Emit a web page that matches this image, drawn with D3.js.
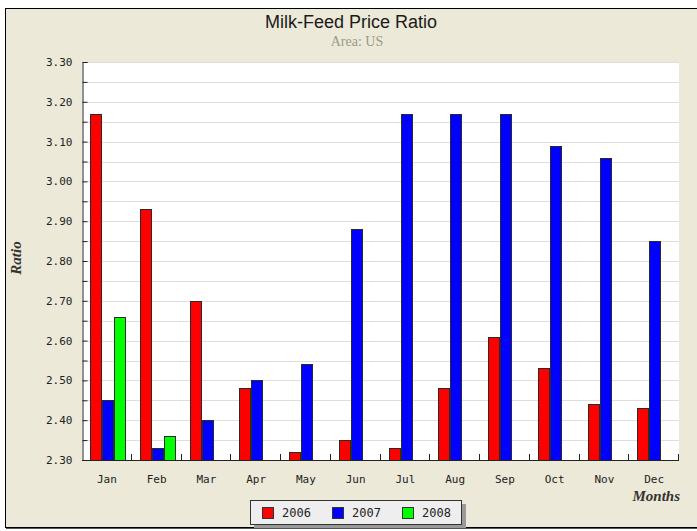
<!DOCTYPE html>
<html>
<head>
<meta charset="utf-8">
<script src="https://cdn.jsdelivr.net/npm/d3@7"></script>
<style>
  html, body { margin: 0; padding: 0; background: #ffffff; }
  svg { display: block; }
</style>
</head>
<body>
<svg id="chart" width="697" height="531"></svg>
<script>
const months = ["Jan","Feb","Mar","Apr","May","Jun","Jul","Aug","Sep","Oct","Nov","Dec"];
const seriesNames = ["2006","2007","2008"];
const values2006 = [3.17, 2.93, 2.70, 2.48, 2.32, 2.35, 2.33, 2.48, 2.61, 2.53, 2.44, 2.43];
const values2007 = [2.45, 2.33, 2.40, 2.50, 2.54, 2.88, 3.17, 3.17, 3.17, 3.09, 3.06, 2.85];
const values2008 = [2.66, 2.36, null, null, null, null, null, null, null, null, null, null];
const seriesColors = ["#ff0000", "#0000ff", "#00ff00"];
const yTickValues = [2.30, 2.40, 2.50, 2.60, 2.70, 2.80, 2.90, 3.00, 3.10, 3.20, 3.30];
const yMinorValues = [2.30,2.35,2.40,2.45,2.50,2.55,2.60,2.65,2.70,2.75,2.80,2.85,2.90,2.95,3.00,3.05,3.10,3.15,3.20,3.25,3.30];

const seriesValues = [values2006, values2007, values2008];

const svg = d3.select("#chart");
const W = 697, H = 531;
const plot = { left: 82, right: 679, top: 62, bottom: 460 };

// frame
svg.append("rect").attr("x", 6).attr("y", 10).attr("width", 720).attr("height", 519)
  .attr("fill", "#555");
svg.append("rect").attr("x", 5.5).attr("y", 8.5).attr("width", 720).attr("height", 519)
  .attr("fill", "#ECE9D8").attr("stroke", "#000").attr("stroke-width", 1);

// title
svg.append("text").attr("x", 351).attr("y", 28).attr("text-anchor", "middle")
  .attr("font-family", "Liberation Sans, Arial, sans-serif").attr("font-size", 18)
  .attr("fill", "#1a1a1a").text("Milk-Feed Price Ratio");
svg.append("text").attr("x", 357).attr("y", 46).attr("text-anchor", "middle")
  .attr("font-family", "Liberation Serif, Times New Roman, serif").attr("font-size", 14)
  .attr("fill", "#9a9a88").text("Area: US");

// scales
const x0 = d3.scaleBand().domain(months).range([plot.left, plot.right]).padding(0);
const x1 = d3.scaleBand().domain(seriesNames).range([8, 44]).padding(0);
const y = d3.scaleLinear().domain([2.30, 3.30]).range([plot.bottom, plot.top]);

// plot background
svg.append("rect").attr("x", plot.left).attr("y", plot.top)
  .attr("width", plot.right - plot.left).attr("height", plot.bottom - plot.top)
  .attr("fill", "#ffffff");

// gridlines
svg.append("g").selectAll("line").data(yMinorValues).join("line")
  .attr("x1", plot.left).attr("x2", plot.right)
  .attr("y1", d => Math.round(y(d)) + 0.5).attr("y2", d => Math.round(y(d)) + 0.5)
  .attr("stroke", "#dedede").attr("stroke-width", 1);

// bars
const barData = [];
months.forEach((m, i) => {
  seriesNames.forEach((s, j) => {
    const v = seriesValues[j][i];
    if (v !== null) barData.push({ month: m, series: s, value: v, color: seriesColors[j] });
  });
});
svg.append("g").selectAll("rect").data(barData).join("rect")
  .attr("x", d => Math.round(x0(d.month) + x1(d.series)) + 0.5)
  .attr("y", d => Math.round(y(d.value)) + 0.5)
  .attr("width", x1.bandwidth() - 1)
  .attr("height", d => Math.round(y(2.30)) - Math.round(y(d.value)))
  .attr("fill", d => d.color)
  .attr("stroke", "#2a2a2a").attr("stroke-width", 1);

// y axis
const yAxis = d3.axisLeft(y).tickValues(yMinorValues).tickSize(-5).tickPadding(10)
  .tickFormat(d => yTickValues.some(t => Math.abs(t - d) < 1e-6) ? d3.format(".2f")(d) : "");
const gy = svg.append("g").attr("transform", `translate(${plot.left + 0.5},0)`).call(yAxis);
gy.select(".domain").attr("stroke", "#222");
gy.selectAll(".tick line").attr("stroke", "#222");
gy.selectAll(".tick text").attr("font-family", "DejaVu Sans Mono, monospace")
  .attr("font-size", 11).attr("fill", "#222");

// x axis
const xAxis = d3.axisBottom(x0).tickSize(0).tickPadding(15);
const gx = svg.append("g").attr("transform", `translate(0,${plot.bottom + 0.5})`).call(xAxis);
gx.select(".domain").attr("stroke", "#222").attr("d", `M${plot.left},0H${plot.right}`);
gx.selectAll(".tick text").attr("font-family", "DejaVu Sans Mono, monospace")
  .attr("font-size", 11).attr("fill", "#222");
// boundary ticks
const boundaries = months.map(m => x0(m) + x0.bandwidth()).concat([]);
svg.append("g").selectAll("line").data(boundaries).join("line")
  .attr("x1", d => Math.round(d) - 0.5).attr("x2", d => Math.round(d) - 0.5)
  .attr("y1", plot.bottom).attr("y2", plot.bottom - 6)
  .attr("stroke", "#222");

// axis titles
svg.append("text").attr("transform", "translate(21,258) rotate(-90)")
  .attr("text-anchor", "middle")
  .attr("font-family", "Liberation Serif, Times New Roman, serif")
  .attr("font-size", 15).attr("font-style", "italic").attr("font-weight", "bold")
  .attr("fill", "#333").text("Ratio");
svg.append("text").attr("x", 680).attr("y", 501).attr("text-anchor", "end")
  .attr("font-family", "Liberation Serif, Times New Roman, serif")
  .attr("font-size", 15).attr("font-style", "italic").attr("font-weight", "bold")
  .attr("fill", "#333").text("Months");

// legend
const legend = svg.append("g");
legend.append("rect").attr("x", 254).attr("y", 504).attr("width", 212).attr("height", 24)
  .attr("fill", "#9a9a9a");
legend.append("rect").attr("x", 250.5).attr("y", 500.5).attr("width", 211).attr("height", 24)
  .attr("fill", "#eeeeee").attr("stroke", "#333");
const legendItems = legend.selectAll("g.item").data(seriesNames).join("g")
  .attr("transform", (d, i) => `translate(${262 + i * 70},0)`);
legendItems.append("rect").attr("x", 0.5).attr("y", 507.5).attr("width", 11).attr("height", 11)
  .attr("fill", (d, i) => seriesColors[i]).attr("stroke", "#333");
legendItems.append("text").attr("x", 20).attr("y", 517)
  .attr("font-family", "DejaVu Sans Mono, monospace").attr("font-size", 12)
  .attr("fill", "#222").text(d => d);
</script>
</body>
</html>
